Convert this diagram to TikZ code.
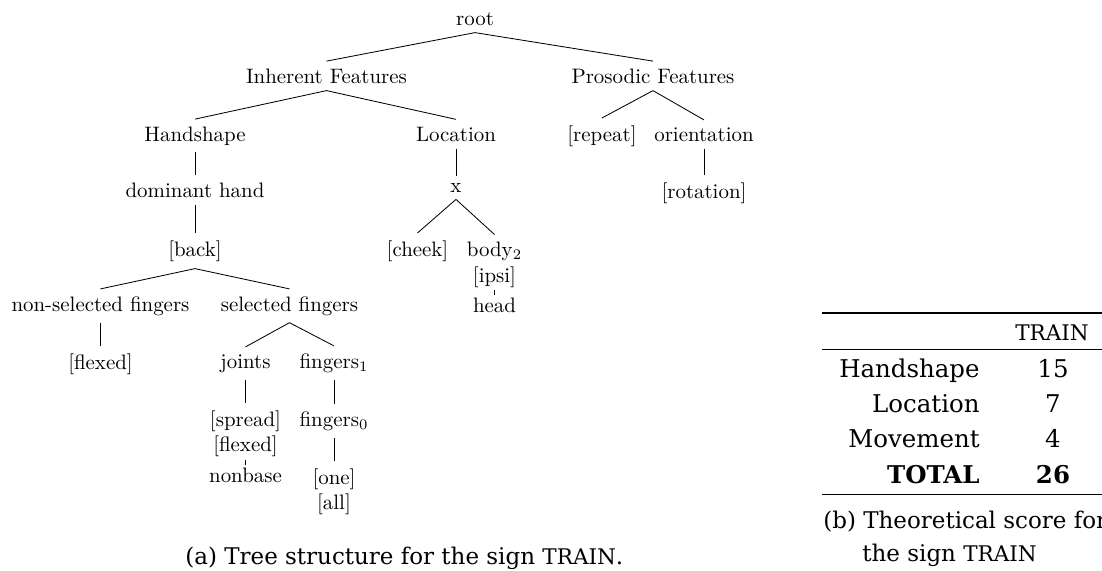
\documentclass[tikz,border=0pt]{standalone}
\usepackage{fontspec}
\usepackage{tikz}
\newfontfamily\chfont{DejaVu Serif}
\newcommand{\fakesc}[1]{{\fontsize{10.3}{12}\selectfont #1}}

\begin{document}
\begin{tikzpicture}[x=0.4785pt, y=-0.4785pt,
  feat/.style={font=\fontsize{10}{12.4}\selectfont, anchor=base, align=center},
  featstack/.style={feat, anchor=north},
  edge/.style={line width=0.4pt},
  tabtext/.style={font=\chfont\fontsize{11.7}{14}\selectfont, inner sep=0pt},
  captext/.style={font=\chfont\fontsize{11}{14}\selectfont, inner sep=0pt, anchor=base west},
  rule/.style={line width=#1}]
\useasboundingbox (0,0) rectangle (1102,570);
\clip (0,0) rectangle (1102,570);
% tree
\node[feat] (root) at (475,25) {root};
\node[feat] (inh) at (326.5,83) {Inherent Features};
\node[feat] (pros) at (653,83) {Prosodic Features};
\node[feat] (hand) at (195,141) {Handshape};
\node[feat] (loc) at (456,141) {Location};
\node[feat] (rep) at (602,141) {[repeat]};
\node[feat] (ori) at (704,141) {orientation};
\node[feat] (dom) at (195,197) {dominant hand};
\node[feat] (locx) at (456,192) {x};
\node[feat] (rot) at (704,198) {[rotation]};
\node[feat] (back) at (195,256) {[back]};
\node[feat] (cheek) at (417.5,256) {[cheek]};
\node[featstack] (body) at (494.5,234.5) {body$_2$\\{}[ipsi]};
\node[feat] (head) at (494.5,312) {head};
\node[feat] (nonsel) at (100.5,311) {non-selected fingers};
\node[feat] (sel) at (289.5,311) {selected fingers};
\node[feat] (nsflex) at (100.5,369) {[flexed]};
\node[feat] (joints) at (245.5,368) {joints};
\node[feat] (fing1) at (334,368) {fingers$_1$};
\node[featstack] (spread) at (245.5,403) {[spread]\\{}[flexed]};
\node[feat] (fing0) at (334,426) {fingers$_0$};
\node[feat] (nonbase) at (245.5,482) {nonbase};
\node[featstack] (onall) at (334,461) {[one]\\{}[all]};
\draw[edge] (root.south) -- (inh.north) (root.south) -- (pros.north);
\draw[edge] (inh.south) -- (hand.north) (inh.south) -- (loc.north);
\draw[edge] (pros.south) -- (rep.north) (pros.south) -- (ori.north);
\draw[edge] (hand.south) -- (dom.north);
\draw[edge] (dom.south) -- (back.north);
\draw[edge] (loc.south) -- (locx.north);
\draw[edge] (ori.south) -- (rot.north);
\draw[edge] (locx.south) -- (cheek.north) (locx.south) -- (body.north);
\draw[edge] (body.south) -- (head.north);
\draw[edge] (back.south) -- (nonsel.north) (back.south) -- (sel.north);
\draw[edge] (nonsel.south) -- (nsflex.north);
\draw[edge] (sel.south) -- (joints.north) (sel.south) -- (fing1.north);
\draw[edge] (joints.south) -- (spread.north);
\draw[edge] (spread.south) -- (nonbase.north);
\draw[edge] (fing1.south) -- (fing0.north);
\draw[edge] (fing0.south) -- (onall.north);
\node[captext] (capa) at (185,564) {(a) Tree structure for the sign \fakesc{TRAIN}.};
% table
\draw[rule=0.55pt] (822,313) -- (1110,313);
\draw[rule=0.35pt] (822,349.5) -- (1110,349.5);
\draw[rule=0.55pt] (822,494.5) -- (1110,494.5);
\node[tabtext, anchor=base] (thead) at (1052,340) {\fakesc{TRAIN}};
\node[tabtext, anchor=base east] (rhand) at (980,377) {Handshape};
\node[tabtext, anchor=base] (vhand) at (1053,377) {15};
\node[tabtext, anchor=base east] (rloc) at (980,412) {Location};
\node[tabtext, anchor=base] (vloc) at (1053,412) {7};
\node[tabtext, anchor=base east] (rmov) at (980,447) {Movement};
\node[tabtext, anchor=base] (vmov) at (1053,447) {4};
\node[tabtext, anchor=base east] (rtot) at (980,483) {\bfseries TOTAL};
\node[tabtext, anchor=base] (vtot) at (1053,483) {\bfseries 26};
\node[captext] (capb) at (823,528) {(b) Theoretical score for};
\node[captext] (capb2) at (862,561) {the sign \fakesc{TRAIN}};
\end{tikzpicture}
\end{document}
